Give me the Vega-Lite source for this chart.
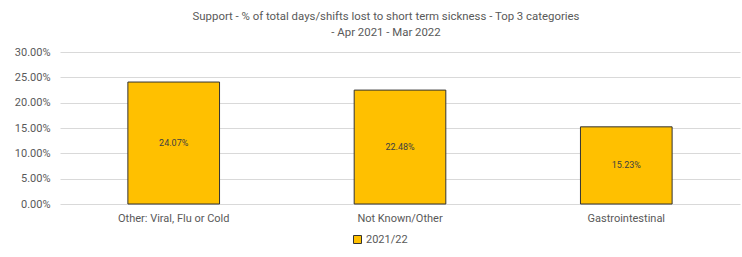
{
  "$schema": "https://vega.github.io/schema/vega-lite/v6.json",
  "width": 680,
  "height": 152,
  "autosize": {"type": "none"},
  "padding": {"left": 60, "top": 52, "right": 2, "bottom": 53},
  "background": "white",
  "config": {
    "font": "Roboto",
    "view": {"stroke": null},
    "axisY": {"values": [0, 0.05, 0.1, 0.15, 0.2, 0.25, 0.3], "format": ".2%", "labelOverlap": false, "ticks": false, "domain": false, "gridColor": "#d9d9d9", "labelFontSize": 11, "labelColor": "#595959", "labelPadding": 10, "title": null}
  },
  "title": {
    "text": ["Support - % of total days/shifts lost to short term sickness - Top 3 categories", "- Apr 2021 - Mar 2022"],
    "fontSize": 11.4,
    "fontWeight": "normal",
    "color": "#595959",
    "lineHeight": 16,
    "offset": 8,
    "dx": -14
  },
  "data": {
    "values": [
      {"category": "Other: Viral, Flu or Cold", "year": "2021/22", "value": 0.2407},
      {"category": "Not Known/Other", "year": "2021/22", "value": 0.2248},
      {"category": "Gastrointestinal", "year": "2021/22", "value": 0.1523}
    ]
  },
  "transform": [{"calculate": "datum.value / 2", "as": "mid"}],
  "encoding": {
    "x": {
      "field": "category",
      "type": "nominal",
      "sort": null,
      "title": null,
      "scale": {"paddingInner": 0.595, "paddingOuter": 0.3},
      "axis": {"labelAngle": 0, "ticks": false, "domain": false, "labelFontSize": 11, "labelColor": "#595959", "labelPadding": 8}
    }
  },
  "layer": [
    {
      "mark": {"type": "bar", "stroke": "#333333", "strokeWidth": 1},
      "encoding": {
        "y": {
          "field": "value",
          "type": "quantitative",
          "title": null,
          "scale": {"domain": [0, 0.3]},
          "axis": {"values": [0, 0.05, 0.1, 0.15, 0.2, 0.25, 0.3], "format": ".2%"}
        },
        "color": {
          "field": "year",
          "type": "nominal",
          "scale": {"range": ["#FFC000"]},
          "legend": {"title": null, "orient": "none", "legendX": 292, "legendY": 182, "symbolType": "square", "symbolStrokeColor": "#333333", "symbolStrokeWidth": 1, "symbolSize": 64, "labelFontSize": 11, "labelColor": "#595959", "labelOffset": 3}
        }
      }
    },
    {
      "mark": {"type": "text", "fontSize": 9, "color": "#404040", "baseline": "middle"},
      "encoding": {
        "y": {"field": "mid", "type": "quantitative", "title": null, "axis": {"values": [0, 0.05, 0.1, 0.15, 0.2, 0.25, 0.3], "format": ".2%"}},
        "text": {"field": "value", "type": "quantitative", "format": ".2%"}
      }
    }
  ]
}
